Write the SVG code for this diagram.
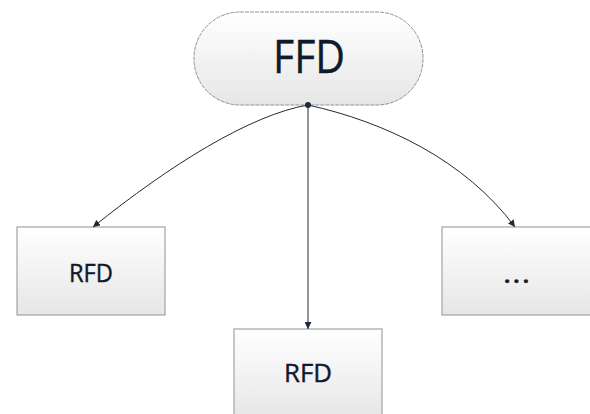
<svg xmlns="http://www.w3.org/2000/svg" width="590" height="414" viewBox="0 0 590 414">
<style>
.box{fill:url(#g);stroke:#8e9296;stroke-width:1}
.t{font-family:"Open Sans","Liberation Sans",sans-serif;fill:#0f1a2a;text-anchor:middle;stroke:#0f1a2a;stroke-width:0.4}
.c{fill:none;stroke:#1e2a3a;stroke-width:1}
</style>
<defs>
<linearGradient id="g" x1="0" y1="0" x2="0" y2="1">
<stop offset="0" stop-color="#ffffff"/>
<stop offset="1" stop-color="#e6e6e6"/>
</linearGradient>
<marker id="a" viewBox="0 0 10 10" refX="10" refY="5" markerWidth="7" markerHeight="7" orient="auto" markerUnits="userSpaceOnUse">
<path d="M0,0 L10,5 L0,10 z" fill="#1e2a3a"/>
</marker>
</defs>
<rect width="590" height="414" fill="#ffffff"/>
<g id="ffd">
<rect class="box" x="194" y="12" width="229" height="93" rx="46" ry="46" stroke-dasharray="4 1"/>
<text class="t" x="309" y="73" font-size="45" textLength="72" lengthAdjust="spacingAndGlyphs">FFD</text>
</g>
<g id="rfd1">
<rect class="box" x="17" y="227" width="148" height="88"/>
<text class="t" x="91" y="282" font-size="25" textLength="44" lengthAdjust="spacingAndGlyphs">RFD</text>
</g>
<g id="rfd2">
<rect class="box" x="234" y="329" width="148" height="90"/>
<text class="t" x="308" y="382" font-size="25" textLength="48" lengthAdjust="spacingAndGlyphs">RFD</text>
</g>
<g id="more">
<rect class="box" x="442" y="227" width="150" height="88"/>
<text class="t" x="518" y="283" font-size="22" font-weight="700" letter-spacing="3">...</text>
</g>
<g id="connectors">
<path class="c" d="M308,105 C250,115 170,165 93,227" marker-end="url(#a)"/>
<path class="c" d="M308,105 L308,329" marker-end="url(#a)"/>
<path class="c" d="M308,105 C385,122 465,160 515,227" marker-end="url(#a)"/>
<circle cx="308" cy="105" r="3" fill="#1e2a3a"/>
</g>
</svg>
